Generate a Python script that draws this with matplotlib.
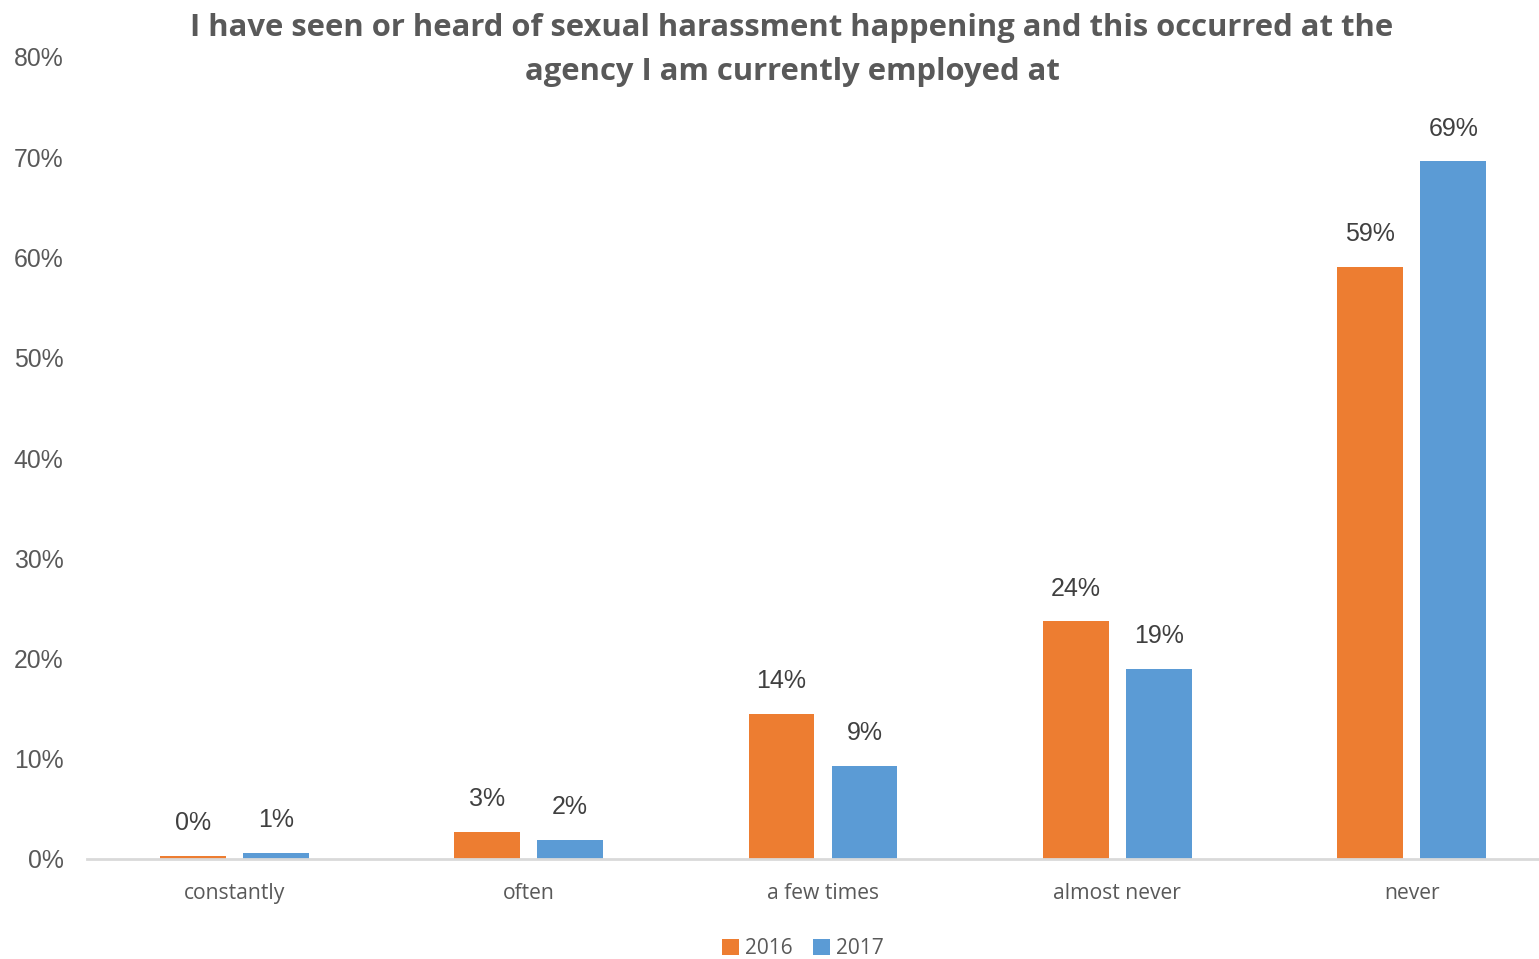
import numpy as np
import matplotlib.pyplot as plt

# survey answers, share of respondents (%)
categories = ["constantly", "often", "a few times", "almost never", "never"]
years = ["2016", "2017"]
share_2016 = [0.3, 2.7, 14.5, 23.7, 59.1]
share_2017 = [0.6, 1.9, 9.3, 19.0, 69.6]
labels_2016 = ["0%", "3%", "14%", "24%", "59%"]
labels_2017 = ["1%", "2%", "9%", "19%", "69%"]

title = ("I have seen or heard of sexual harassment happening and this occurred at the\n"
         "agency I am currently employed at")

orange = "#ED7D31"
blue = "#5B9BD5"
text_gray = "#595959"

fig = plt.figure(figsize=(15.39, 9.59), dpi=100)
ax = fig.add_axes([87 / 1539, 100 / 959, 1472 / 1539, 802 / 959])

x = np.arange(len(categories))
w = 0.224
off = 0.141
b1 = ax.bar(x - off, share_2016, w, color=orange, label=years[0])
b2 = ax.bar(x + off, share_2017, w, color=blue, label=years[1])

for bars, labs in ((b1, labels_2016), (b2, labels_2017)):
    for bar, lab in zip(bars, labs):
        ax.annotate(lab, (bar.get_x() + bar.get_width() / 2, bar.get_height()),
                    xytext=(0, 23.5), textcoords="offset points",
                    ha="center", va="center", fontsize=18,
                    family="Liberation Sans", color="#404040")

ax.set_xlim(-0.5, len(categories) - 0.5)
ax.set_ylim(0, 80)
ax.set_yticks(range(0, 81, 10))
ax.set_yticklabels([f"{v}%" for v in range(0, 81, 10)],
                   family="Liberation Sans", fontsize=17.8, color=text_gray)
ax.set_xticks(x)
ax.set_xticklabels(categories, family="Open Sans", fontsize=15.2, color=text_gray)
ax.tick_params(axis="y", length=0, pad=17)
ax.tick_params(axis="x", length=0, pad=17)

for s in ("top", "right", "left"):
    ax.spines[s].set_visible(False)
ax.spines["bottom"].set_color("#D9D9D9")
ax.spines["bottom"].set_linewidth(2)

fig.text(792 / 1539, 1 - 50 / 959, title, ha="center", va="center",
         family="Open Sans", fontweight="bold", fontsize=22.3,
         color=text_gray, linespacing=1.65)

fig.legend(loc="center", bbox_to_anchor=(803 / 1539, 1 - 949 / 959), ncol=2,
           frameon=False, handlelength=0.8, handleheight=0.8,
           handletextpad=0.3, columnspacing=1.0,
           prop={"family": "Open Sans", "size": 15}, labelcolor=text_gray)

fig.savefig("out.png", dpi=100)
